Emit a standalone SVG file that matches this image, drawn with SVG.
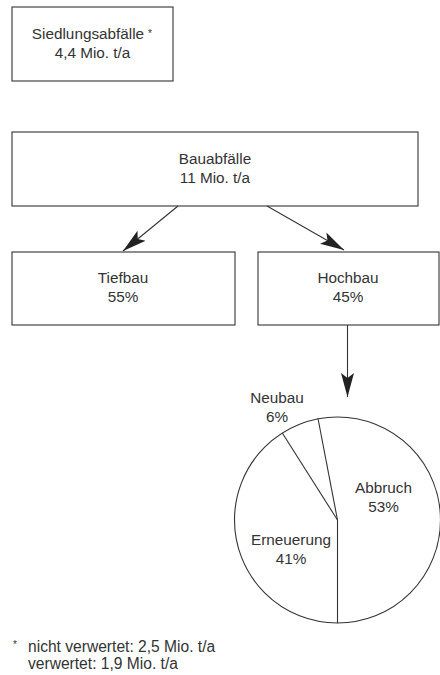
<svg xmlns="http://www.w3.org/2000/svg" width="440" height="675" viewBox="0 0 440 675">
<style>
.box{fill:#fff;stroke:#333;stroke-width:1.1}
.t{font-family:"Liberation Sans",Arial,sans-serif;font-size:15.3px;fill:#333;text-anchor:middle}
.ts{font-family:"Liberation Sans",Arial,sans-serif;font-size:15.6px;fill:#333}
.ln{stroke:#333;stroke-width:1.1;fill:none}
</style>
<defs>
<marker id="ah" viewBox="0 0 24 14" refX="24" refY="7" markerWidth="24" markerHeight="14" markerUnits="userSpaceOnUse" orient="auto">
<path d="M0,0.5 L24,7 L0,13.5 L5,7 Z" fill="#222"/>
</marker>
</defs>
<rect width="440" height="675" fill="#fff"/>
<g id="siedlung">
<rect class="box" x="12" y="7" width="161" height="74"/>
<text class="t" x="88" y="39">Siedlungsabfälle</text>
<text class="ts" x="148" y="37" style="font-size:10px">*</text>
<text class="t" x="92.5" y="58">4,4 Mio. t/a</text>
</g>
<g id="bau">
<rect class="box" x="12" y="132" width="406" height="74"/>
<text class="t" x="215" y="164">Bauabfälle</text>
<text class="t" x="215" y="183">11 Mio. t/a</text>
</g>
<g id="tiefbau">
<rect class="box" x="12" y="252" width="223" height="73"/>
<text class="t" x="123" y="283">Tiefbau</text>
<text class="t" x="123" y="302">55%</text>
</g>
<g id="hochbau">
<rect class="box" x="258" y="252" width="181" height="73"/>
<text class="t" x="348" y="283">Hochbau</text>
<text class="t" x="348" y="302">45%</text>
</g>
<g id="connectors">
<line class="ln" x1="178" y1="206" x2="123" y2="251" marker-end="url(#ah)"/>
<line class="ln" x1="267" y1="206" x2="344" y2="250" marker-end="url(#ah)"/>
<line class="ln" x1="347.5" y1="325" x2="347.5" y2="397" marker-end="url(#ah)"/>
</g>
<g id="pie">
<circle class="ln" cx="337.5" cy="520" r="103"/>
<line class="ln" x1="337.5" y1="520" x2="337.5" y2="623"/>
<line class="ln" x1="337.5" y1="520" x2="318" y2="418.5"/>
<line class="ln" x1="337.5" y1="520" x2="282.3" y2="433"/>
<text class="t" x="277" y="403">Neubau</text>
<text class="t" x="277" y="422">6%</text>
<text class="t" x="383.5" y="493">Abbruch</text>
<text class="t" x="383.5" y="512">53%</text>
<text class="t" x="291" y="545">Erneuerung</text>
<text class="t" x="291" y="564">41%</text>
</g>
<g id="footnote">
<text class="ts" x="13" y="648" style="font-size:10px">*</text>
<text class="ts" x="28" y="652">nicht verwertet: 2,5 Mio. t/a</text>
<text class="ts" x="28" y="669">verwertet: 1,9 Mio. t/a</text>
</g>
</svg>
